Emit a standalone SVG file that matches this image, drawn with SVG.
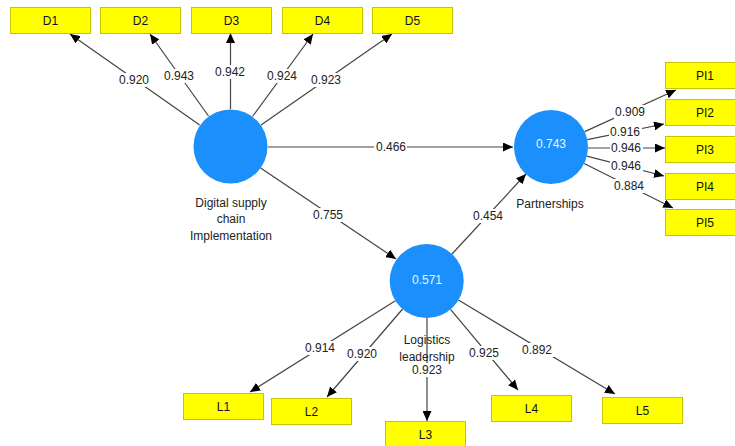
<svg xmlns="http://www.w3.org/2000/svg" width="735" height="446" viewBox="0 0 735 446">
<defs>
<marker id="ah" markerUnits="userSpaceOnUse" markerWidth="10" markerHeight="9" viewBox="0 0 10 9" refX="10" refY="4.5" orient="auto">
<path d="M0,0 L10,4.5 L0,9 z" fill="#000"/>
</marker>
</defs>
<style>
.bg{fill:#fff}
.ln{stroke:#444;stroke-width:1.2;fill:none;marker-end:url(#ah)}
.box{fill:#ffff00;stroke:#c8c400;stroke-width:1}
.bt{font-family:"Liberation Sans",Arial,sans-serif;font-size:12px;fill:#111;text-anchor:middle}
.lv{font-family:"Liberation Sans",Arial,sans-serif;font-size:12px;fill:#222;text-anchor:middle}
.nm{font-family:"Liberation Sans",Arial,sans-serif;font-size:12px;fill:#222;text-anchor:middle}
.cir{fill:#1b8ffc}
.ct{font-family:"Liberation Sans",Arial,sans-serif;font-size:12px;fill:#eef4ff;text-anchor:middle}
</style>
<rect width="735" height="446" fill="#fff"/>
<g id="connectors">
<line class="ln" x1="199.7" y1="125" x2="70" y2="34"/>
<line class="ln" x1="208.5" y1="116" x2="150" y2="34"/>
<line class="ln" x1="230.5" y1="109" x2="230.5" y2="33"/>
<line class="ln" x1="252.5" y1="116.5" x2="313" y2="34"/>
<line class="ln" x1="261" y1="125" x2="392" y2="34"/>
<line class="ln" x1="268" y1="147" x2="513" y2="147"/>
<line class="ln" x1="260.6" y1="168" x2="396" y2="259"/>
<line class="ln" x1="452" y1="254" x2="526" y2="174"/>
<line class="ln" x1="584.7" y1="131.6" x2="676" y2="90"/>
<line class="ln" x1="587.3" y1="139.6" x2="664" y2="124"/>
<line class="ln" x1="588" y1="148" x2="665" y2="148"/>
<line class="ln" x1="586.8" y1="156.2" x2="664" y2="176"/>
<line class="ln" x1="584.1" y1="163.5" x2="673" y2="208"/>
<line class="ln" x1="395.4" y1="300.7" x2="250" y2="392"/>
<line class="ln" x1="402.6" y1="309" x2="327" y2="397"/>
<line class="ln" x1="427" y1="318" x2="427" y2="421"/>
<line class="ln" x1="450.5" y1="309.4" x2="518" y2="390"/>
<line class="ln" x1="458.4" y1="300" x2="615" y2="394"/>
</g>
<g id="loadings">
<rect class="bg" x="118" y="73" width="33" height="14"/><text class="lv" x="134" y="84">0.920</text>
<rect class="bg" x="162" y="69" width="33" height="14"/><text class="lv" x="179" y="80">0.943</text>
<rect class="bg" x="214" y="65" width="33" height="14"/><text class="lv" x="230" y="76">0.942</text>
<rect class="bg" x="265" y="69" width="33" height="14"/><text class="lv" x="282" y="80">0.924</text>
<rect class="bg" x="310" y="73" width="33" height="14"/><text class="lv" x="326" y="84">0.923</text>
<rect class="bg" x="374" y="140" width="33" height="14"/><text class="lv" x="391" y="151">0.466</text>
<rect class="bg" x="311" y="208" width="33" height="14"/><text class="lv" x="328" y="219">0.755</text>
<rect class="bg" x="471" y="209" width="33" height="14"/><text class="lv" x="488" y="220">0.454</text>
<rect class="bg" x="614" y="105" width="33" height="14"/><text class="lv" x="630" y="116">0.909</text>
<rect class="bg" x="609" y="125" width="33" height="14"/><text class="lv" x="625" y="136">0.916</text>
<rect class="bg" x="610" y="141" width="33" height="14"/><text class="lv" x="626" y="152">0.946</text>
<rect class="bg" x="610" y="159" width="33" height="14"/><text class="lv" x="626" y="170">0.946</text>
<rect class="bg" x="613" y="179" width="33" height="14"/><text class="lv" x="629" y="190">0.884</text>
<rect class="bg" x="304" y="341" width="33" height="14"/><text class="lv" x="320" y="352">0.914</text>
<rect class="bg" x="346" y="347" width="33" height="14"/><text class="lv" x="362" y="358">0.920</text>
<rect class="bg" x="411" y="363" width="33" height="14"/><text class="lv" x="427" y="374">0.923</text>
<rect class="bg" x="468" y="346" width="33" height="14"/><text class="lv" x="484" y="357">0.925</text>
<rect class="bg" x="521" y="343" width="33" height="14"/><text class="lv" x="537" y="354">0.892</text>
</g>
<g id="node-dsc">
<circle class="cir" cx="230.5" cy="146.5" r="37"/>
<text class="nm" x="231" y="207">Digital supply</text>
<text class="nm" x="231" y="223">chain</text>
<text class="nm" x="231" y="240">Implementation</text>
</g>
<g id="node-partnerships">
<circle class="cir" cx="551" cy="147" r="37"/>
<text class="ct" x="551" y="148">0.743</text>
<text class="nm" x="550" y="208">Partnerships</text>
</g>
<g id="node-logistics">
<circle class="cir" cx="426.7" cy="281" r="37"/>
<text class="ct" x="427" y="284">0.571</text>
<text class="nm" x="427" y="344">Logistics</text>
<text class="nm" x="427" y="361">leadership</text>
</g>
<g id="node-D1"><rect class="box" x="10.5" y="7.5" width="80" height="26"/><text class="bt" x="50.5" y="25">D1</text></g>
<g id="node-D2"><rect class="box" x="100.5" y="7.5" width="80" height="26"/><text class="bt" x="140.5" y="25">D2</text></g>
<g id="node-D3"><rect class="box" x="191.5" y="7.5" width="80" height="26"/><text class="bt" x="231.5" y="25">D3</text></g>
<g id="node-D4"><rect class="box" x="282.5" y="7.5" width="80" height="26"/><text class="bt" x="322.5" y="25">D4</text></g>
<g id="node-D5"><rect class="box" x="372.5" y="7.5" width="80" height="26"/><text class="bt" x="412.5" y="25">D5</text></g>
<g id="node-PI1"><rect class="box" x="665.5" y="62.5" width="80" height="26"/><text class="bt" x="705" y="80">PI1</text></g>
<g id="node-PI2"><rect class="box" x="665.5" y="99.5" width="80" height="26"/><text class="bt" x="705" y="117">PI2</text></g>
<g id="node-PI3"><rect class="box" x="665.5" y="136.5" width="80" height="26"/><text class="bt" x="705" y="154">PI3</text></g>
<g id="node-PI4"><rect class="box" x="665.5" y="173.5" width="80" height="26"/><text class="bt" x="705" y="191">PI4</text></g>
<g id="node-PI5"><rect class="box" x="665.5" y="209.5" width="80" height="26"/><text class="bt" x="705" y="227">PI5</text></g>
<g id="node-L1"><rect class="box" x="183.5" y="393.5" width="80" height="26"/><text class="bt" x="223.5" y="411">L1</text></g>
<g id="node-L2"><rect class="box" x="271.5" y="398.5" width="80" height="26"/><text class="bt" x="311.5" y="416">L2</text></g>
<g id="node-L3"><rect class="box" x="385.5" y="421.5" width="80" height="26"/><text class="bt" x="425.5" y="439">L3</text></g>
<g id="node-L4"><rect class="box" x="491.5" y="395.5" width="80" height="26"/><text class="bt" x="531.5" y="413">L4</text></g>
<g id="node-L5"><rect class="box" x="602.5" y="397.5" width="80" height="26"/><text class="bt" x="642.5" y="415">L5</text></g>
</svg>
